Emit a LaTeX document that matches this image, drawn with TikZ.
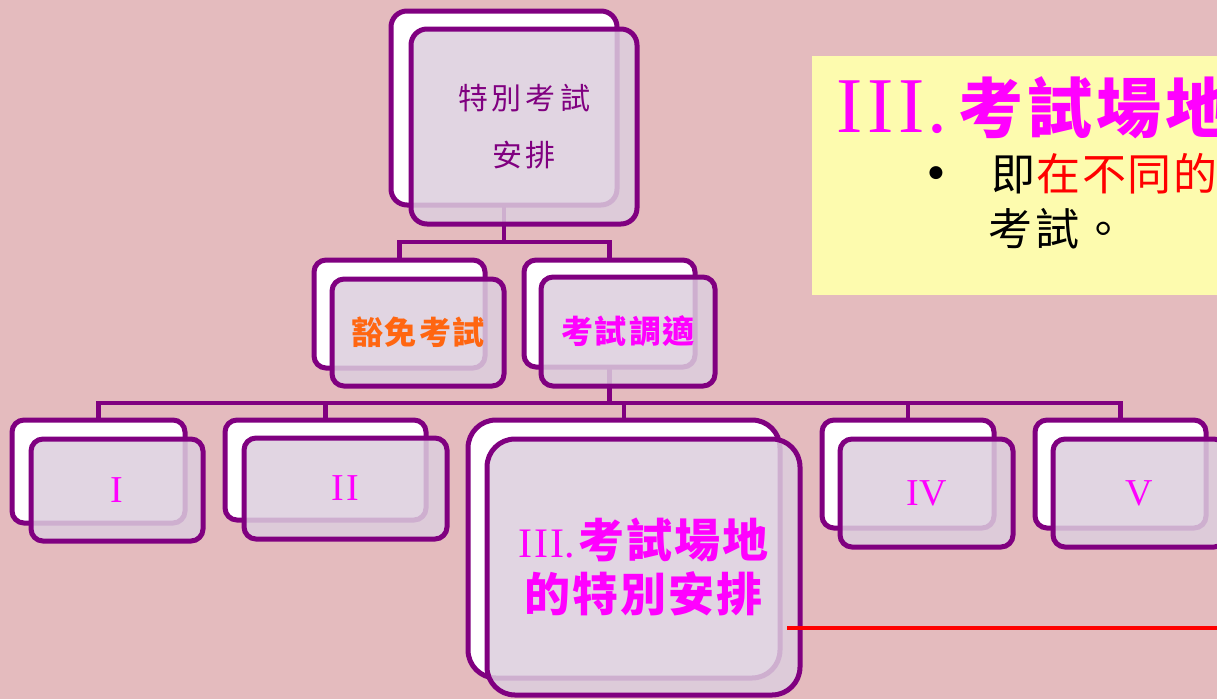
\documentclass[tikz,border=0pt]{standalone}
\usepackage{fontspec}
\setmainfont{Noto Sans CJK TC}
\newfontfamily\romanf{Liberation Serif}
\newfontfamily\symf{DejaVu Sans}
\definecolor{bgpink}{HTML}{E4BBBE}
\definecolor{boxpurple}{HTML}{800080}
\definecolor{frontfill}{HTML}{DCCEDE}
\definecolor{noteyellow}{HTML}{FDFBAE}
\definecolor{mag}{HTML}{FF00FF}
\definecolor{orng}{HTML}{FF6611}
\begin{document}
\begin{tikzpicture}[x=1pt,y=-1pt,
  backbox/.style={draw=boxpurple,line width=5pt,fill=white,rectangle,inner sep=0pt,outer sep=0pt},
  frontbox/.style={draw=boxpurple,line width=5pt,fill=frontfill,fill opacity=0.85,text opacity=1,rectangle,inner sep=0pt,outer sep=0pt,align=center},
  link/.style={draw=boxpurple,line width=4.5pt}]
\useasboundingbox (0,0) rectangle (1217,699);
\fill[bgpink] (0,0) rectangle (1217,699);
% note box
\fill[noteyellow] (812,56) rectangle (1217,295);
\node[anchor=base west,inner sep=0pt,text=mag,font=\fontsize{65}{70}\selectfont\bfseries] (ttl) at (836,132) {{\romanf\mdseries\fontsize{79}{80}\selectfont I\hspace{5pt}I\hspace{5pt}I\hspace{2pt}.}\hspace{12pt}考\hspace{4pt}試\hspace{4pt}場\hspace{4pt}地};
\node[inner sep=0pt,font=\symf\fontsize{17}{17}\selectfont] (bul) at (936,173) {●};
\node[anchor=base west,inner sep=0pt,font=\fontsize{44}{48}\selectfont] (ln1) at (991,190) {即\hspace{1.5pt}\textcolor{red}{在\hspace{1.5pt}不\hspace{1.5pt}同\hspace{1.5pt}的}};
\node[anchor=base west,inner sep=0pt,font=\fontsize{44}{48}\selectfont] (ln2) at (988,245) {考\hspace{3pt}試\hspace{2pt}。};
% junction levels
\coordinate (busA) at (0,242);
\coordinate (busB) at (0,403);
% back boxes
\node[backbox,minimum width=226pt,minimum height=194pt,rounded corners=16pt] (topB) at (504,108) {};
\node[backbox,minimum width=171pt,minimum height=108pt,rounded corners=12pt] (c1B) at (399.5,314) {};
\node[backbox,minimum width=171pt,minimum height=107pt,rounded corners=12pt] (c2B) at (609.5,313.5) {};
\node[backbox,minimum width=173pt,minimum height=103pt,rounded corners=12pt] (iB) at (98.5,471.5) {};
\node[backbox,minimum width=201pt,minimum height=100pt,rounded corners=12pt] (iiB) at (325.5,470) {};
\node[backbox,minimum width=312pt,minimum height=258pt,rounded corners=28pt] (iiiB) at (624,549) {};
\node[backbox,minimum width=172pt,minimum height=108pt,rounded corners=12pt] (ivB) at (908,474) {};
\node[backbox,minimum width=171pt,minimum height=108pt,rounded corners=12pt] (vB) at (1120.5,474) {};
% connectors
\draw[link] (topB.south) -- (topB.south |- busA) -| (c1B.north);
\draw[link] (topB.south |- busA) -| (c2B.north);
\draw[link] (c2B.south) -- (c2B.south |- busB) -| (iB.north);
\draw[link] (c2B.south |- busB) -| (iiB.north);
\draw[link] (c2B.south |- busB) -| (iiiB.north);
\draw[link] (c2B.south |- busB) -| (ivB.north);
\draw[link] (c2B.south |- busB) -| (vB.north);
% front boxes
\node[frontbox,minimum width=226pt,minimum height=195pt,rounded corners=16pt,text=boxpurple,font=\fontsize{30}{57}\selectfont] (topF) at (524,126.5) {特\hspace{4pt}別\hspace{4pt}考\hspace{4pt}試\\安\hspace{4pt}排};
\node[frontbox,minimum width=172pt,minimum height=107pt,rounded corners=12pt,text=orng,font=\fontsize{32}{36}\selectfont\bfseries] (c1F) at (418,332.5) {豁\hspace{2pt}免\hspace{2pt}考\hspace{2pt}試};
\node[frontbox,minimum width=174pt,minimum height=109pt,rounded corners=12pt,text=mag,font=\fontsize{32}{36}\selectfont\bfseries] (c2F) at (628,331.5) {考\hspace{2pt}試\hspace{2pt}調\hspace{2pt}適};
\node[frontbox,minimum width=172pt,minimum height=102pt,rounded corners=12pt,text=mag,font=\romanf\fontsize{38}{40}\selectfont] (iF) at (117,490) {I};
\node[frontbox,minimum width=203pt,minimum height=101pt,rounded corners=12pt,text=mag,font=\romanf\fontsize{38}{40}\selectfont] (iiF) at (345.5,488.5) {I\hspace{3pt}I};
\node[frontbox,minimum width=313pt,minimum height=256pt,rounded corners=28pt,text=mag,font=\fontsize{46}{54}\selectfont\bfseries] (iiiF) at (643.5,567) {{\romanf\mdseries\fontsize{42}{54}\selectfont I\hspace{2pt}I\hspace{2pt}I.}\hspace{4pt}考\hspace{2pt}試\hspace{2pt}場\hspace{2pt}地\\的\hspace{2pt}特\hspace{2pt}別\hspace{2pt}安\hspace{2pt}排};
\node[frontbox,minimum width=173pt,minimum height=108pt,rounded corners=12pt,text=mag,font=\romanf\fontsize{38}{40}\selectfont] (ivF) at (926.5,493) {IV};
\node[frontbox,minimum width=173pt,minimum height=108pt,rounded corners=12pt,text=mag,font=\romanf\fontsize{38}{40}\selectfont] (vF) at (1139.5,493) {V};
% red line
\coordinate (redS) at (787,628);
\coordinate (redE) at (1217,628);
\draw[red,line width=4pt] (redS) -- (redE);
\end{tikzpicture}
\end{document}
